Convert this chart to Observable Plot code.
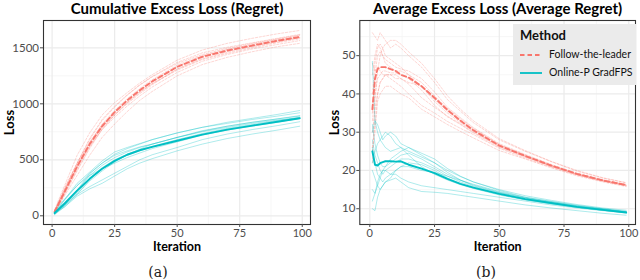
<!DOCTYPE html>
<html>
<head>
<meta charset="utf-8">
<script src="https://cdn.jsdelivr.net/npm/d3@7"></script>
<script src="https://cdn.jsdelivr.net/npm/@observablehq/plot@0.6"></script>
<style>
  html, body { margin: 0; padding: 0; background: #fff; }
  #wrap { position: relative; width: 640px; height: 280px; font-family: Lato, "Open Sans", sans-serif; }
  .panel { position: absolute; top: 0; }
  .cap { position: absolute; top: 264px; font-family: "DejaVu Serif", "Liberation Serif", serif; font-size: 14px; color: #222; transform: translateX(-50%); }
  #legend { position: absolute; left: 513px; top: 24px; width: 123px; height: 61px; background: #EBEBEB; }
  #legend .ttl { position: absolute; left: 7px; top: 3px; font-weight: bold; font-size: 13px; color: #111; }
  #legend .lab { position: absolute; left: 36px; font-size: 10.5px; color: #111; }
  #legend svg { position: absolute; left: 7px; }
</style>
</head>
<body>
<div id="wrap"></div>
<script>
// ---------------- data ----------------
const methods = ["Follow-the-leader", "Online-P GradFPS"];
const colors = ["#F8766D", "#00BFC4"];

const xTicks = [0, 25, 50, 75, 100];
const xMinor = [12.5, 37.5, 62.5, 87.5];
const cumYTicks = [0, 500, 1000, 1500];
const cumYMinor = [250, 750, 1250];
const avgYTicks = [10, 20, 30, 40, 50];
const avgYMinor = [15, 25, 35, 45, 55];

// Cumulative excess loss (left panel)
const iterCum = [1, 5, 10, 15, 20, 25, 30, 35, 40, 50, 60, 70, 80, 90, 99];
const cumMeanFTL = [36, 215, 440, 640, 800, 925, 1030, 1120, 1200, 1330, 1420, 1475, 1520, 1563, 1597];
const cumMeanGFPS = [25, 110, 225, 330, 420, 490, 545, 585, 615, 670, 725, 770, 805, 840, 871];
const cumRunsFTL = [
  [56, 270, 540, 740, 900, 1010, 1100, 1185, 1260, 1390, 1480, 1540, 1585, 1625, 1655],
  [22, 190, 400, 600, 770, 900, 1010, 1110, 1195, 1330, 1425, 1485, 1530, 1575, 1610],
  [40, 250, 470, 660, 810, 925, 1020, 1105, 1180, 1300, 1395, 1450, 1500, 1545, 1580],
  [30, 200, 410, 610, 780, 900, 1000, 1090, 1170, 1310, 1400, 1460, 1510, 1552, 1590],
  [45, 240, 470, 680, 850, 970, 1075, 1165, 1240, 1360, 1440, 1495, 1540, 1580, 1615],
  [25, 180, 360, 540, 700, 820, 930, 1030, 1110, 1250, 1350, 1415, 1465, 1510, 1540],
  [35, 235, 470, 690, 860, 980, 1080, 1170, 1245, 1370, 1455, 1505, 1545, 1585, 1620],
  [48, 225, 430, 620, 770, 880, 980, 1070, 1150, 1280, 1380, 1440, 1490, 1530, 1565],
  [33, 215, 450, 650, 820, 940, 1045, 1135, 1215, 1345, 1430, 1485, 1530, 1570, 1600],
  [26, 205, 430, 630, 790, 905, 1010, 1100, 1180, 1310, 1410, 1470, 1515, 1560, 1590]
];
const cumRunsGFPS = [
  [48, 150, 270, 380, 470, 550, 600, 640, 680, 740, 790, 835, 870, 905, 940],
  [10, 80, 175, 240, 290, 355, 420, 470, 510, 580, 640, 690, 730, 765, 800],
  [30, 145, 290, 390, 490, 570, 610, 645, 680, 740, 790, 825, 860, 890, 920],
  [15, 95, 230, 375, 470, 540, 580, 615, 640, 700, 760, 800, 835, 865, 895],
  [22, 140, 270, 360, 420, 470, 520, 560, 600, 660, 720, 765, 800, 835, 870],
  [12, 95, 190, 260, 320, 380, 440, 500, 545, 610, 680, 730, 770, 805, 840],
  [28, 100, 210, 330, 430, 500, 550, 590, 620, 680, 735, 780, 815, 850, 880],
  [20, 80, 190, 320, 420, 490, 540, 580, 615, 670, 725, 770, 805, 840, 870],
  [32, 105, 225, 360, 450, 520, 570, 610, 640, 700, 755, 800, 835, 865, 890],
  [26, 90, 200, 310, 400, 480, 545, 595, 640, 700, 750, 790, 825, 855, 875]
];

// Average excess loss (right panel)
const iterAvg = [1, 2, 3, 4, 5, 6, 8, 10, 12, 15, 20, 25, 30, 35, 40, 50, 60, 70, 80, 90, 99];
const avgMeanFTL = [36, 44, 46.5, 47, 47, 47, 46.5, 46, 45, 44.3, 42, 39, 35.8, 33, 30.5, 26.5, 23.8, 21.3, 19.1, 17.4, 16.2];
const avgMeanGFPS = [25, 21.5, 21.3, 21.9, 22.2, 22.4, 22.4, 22.3, 22.4, 21.5, 20.5, 19.3, 17.8, 16.5, 15.5, 13.9, 12.5, 11.5, 10.5, 9.7, 9.0];
const avgRunsFTL = [
  [56, 55, 54, 56, 55, 54, 52, 53, 52, 50, 47, 43, 38.5, 35.5, 32.5, 28, 25, 22.3, 19.8, 18, 16.8],
  [22, 38, 46, 50, 52, 53, 54, 54, 53, 51, 48, 44, 39.5, 36, 33, 28.3, 25.2, 22.4, 20, 18.1, 16.8],
  [40, 48, 52, 53, 52, 50, 49, 48, 47, 45, 42, 38, 35, 32.5, 30.2, 26.3, 23.7, 21.2, 19, 17.3, 16.1],
  [30, 36, 40, 43, 44, 45, 45, 44, 44, 43, 42, 38.5, 35.5, 33, 30.8, 26.7, 24, 21.4, 19.2, 17.5, 16.3],
  [45, 50, 53, 52, 50, 48, 47, 46, 46, 45, 43, 39.5, 36.2, 33.5, 31, 26.8, 23.9, 21.3, 19.1, 17.4, 16.2],
  [25, 30, 38, 40, 41, 42, 42, 41, 40, 39, 36, 34, 32, 30.2, 28.5, 25.2, 23, 20.7, 18.6, 17, 15.8],
  [35, 45, 50, 51, 50, 49, 48, 47, 46.5, 46, 44, 40.5, 36.5, 33.8, 31.2, 27, 24.2, 21.6, 19.3, 17.6, 16.4],
  [48, 46, 47, 46, 45, 45, 44, 43, 42, 40, 37, 35, 32.8, 31, 29.4, 25.8, 23.2, 20.9, 18.8, 17.2, 16],
  [33, 40, 44, 45, 46, 46, 45.5, 45.5, 45, 44, 41, 37, 34, 32, 29.8, 26, 23.5, 21, 18.9, 17.2, 16],
  [26, 32, 40, 43, 44, 45, 45, 45, 44, 42.6, 39, 36.5, 34.2, 32.2, 30, 26.3, 23.6, 21.2, 19, 17.3, 16.1]
];
const avgRunsGFPS = [
  [48.5, 33, 30, 28, 27, 26, 25, 25.5, 26, 25, 23.5, 22, 20, 18.4, 17, 15, 13.4, 12.2, 11.1, 10.2, 9.6],
  [10, 9.5, 13, 15, 16, 17, 17.5, 18, 17, 15.5, 14.5, 14.3, 14, 13.5, 13, 12, 11, 10.2, 9.5, 8.8, 8.3],
  [30, 33, 32, 30, 28, 29, 30, 29, 27, 26, 24.5, 23, 20.5, 18.5, 17, 14.8, 13, 11.9, 10.8, 10, 9.3],
  [15, 14, 16, 18, 20, 21, 23, 24, 25, 26, 24, 22, 19.5, 17.5, 16, 14.2, 12.8, 11.6, 10.6, 9.8, 9.1],
  [22, 25, 27, 28, 29, 30, 29, 27, 26, 24, 21, 19, 17.5, 16.3, 15.3, 13.6, 12.3, 11.3, 10.4, 9.6, 9.0],
  [12, 14, 17, 19, 20, 20, 19, 19, 18, 17, 16, 15.5, 15, 14.5, 14, 13, 12, 11, 10.2, 9.5, 8.9],
  [28, 24, 22, 20, 19, 20, 21, 22, 23, 23, 22, 20.5, 18.5, 17, 15.8, 14, 12.6, 11.5, 10.5, 9.8, 9.1],
  [20, 18, 16, 15, 16, 17, 18, 20, 21, 22, 21.5, 20, 18, 16.5, 15.5, 13.8, 12.4, 11.3, 10.4, 9.6, 9.0],
  [32, 27, 24, 22, 21, 21, 22, 23, 24, 24.5, 23, 21, 19, 17.5, 16.2, 14.3, 12.8, 11.7, 10.7, 9.9, 9.2],
  [26, 22, 19, 18, 17, 18, 19, 20, 21, 21, 20, 19.5, 18.5, 17.4, 16.4, 14.5, 13, 11.9, 10.9, 10, 9.3]
];

// ---------------- helpers ----------------
function toRows(iters, series, run) {
  return iters.map((x, i) => ({ x, y: series[i], run }));
}
function runRows(iters, runs) {
  return runs.flatMap((s, r) => toRows(iters, s, r));
}

function panel({ title, iters, meanF, meanG, runsF, runsG, xDomain, yDomain, yTicks, yMinor, marginLeft, marginRight, yLabelDx }) {
  return Plot.plot({
    width: 320,
    height: 256,
    marginTop: 20,
    marginBottom: 32,
    marginLeft,
    marginRight,
    x: { domain: xDomain },
    y: { domain: yDomain },
    style: { fontFamily: "Lato, 'Open Sans', sans-serif", fontSize: "11px", background: "#fff", overflow: "visible" },
    marks: [
      Plot.ruleX(xMinor, { stroke: "#F4F4F4", strokeWidth: 0.7 }),
      Plot.ruleY(yMinor, { stroke: "#F4F4F4", strokeWidth: 0.7 }),
      Plot.ruleX(xTicks, { stroke: "#EBEBEB", strokeWidth: 1.2 }),
      Plot.ruleY(yTicks, { stroke: "#EBEBEB", strokeWidth: 1.2 }),
      Plot.line(runRows(iters, runsF), { x: "x", y: "y", z: "run", stroke: colors[0], strokeOpacity: 0.38, strokeWidth: 0.8, strokeDasharray: "2.2,1.6" }),
      Plot.line(runRows(iters, runsG), { x: "x", y: "y", z: "run", stroke: colors[1], strokeOpacity: 0.4, strokeWidth: 0.8 }),
      Plot.line(toRows(iters, meanF, 0), { x: "x", y: "y", stroke: colors[0], strokeWidth: 1.9, strokeDasharray: "4.5,3" }),
      Plot.line(toRows(iters, meanG, 0), { x: "x", y: "y", stroke: colors[1], strokeWidth: 1.9 }),
      Plot.frame({ stroke: "#333333", strokeWidth: 1.1 }),
      Plot.axisX(xTicks, { tickSize: 3, tickPadding: 1.5, fontSize: 11, color: "#4D4D4D", label: null, tickFormat: d => String(d) }),
      Plot.axisY(yTicks, { tickSize: 3, tickPadding: 1.5, fontSize: 11.5, color: "#4D4D4D", label: null, tickFormat: d => String(d) }),
      Plot.text(["Iteration"], { text: d => d, frameAnchor: "bottom", lineAnchor: "middle", dy: 22.5, fontSize: 12.5, fontWeight: "bold", fill: "#000" }),
      Plot.text(["Loss"], { text: d => d, frameAnchor: "left", textAnchor: "middle", lineAnchor: "middle", dx: yLabelDx, rotate: -90, fontSize: 13, fontWeight: "bold", fill: "#000" }),
      Plot.text([title], { text: d => d, frameAnchor: "top", lineAnchor: "middle", dy: -11, fontSize: 15, fontWeight: "bold", fill: "#000" })
    ]
  });
}

const left = panel({
  title: "Cumulative Excess Loss (Regret)",
  iters: iterCum, meanF: cumMeanFTL, meanG: cumMeanGFPS, runsF: cumRunsFTL, runsG: cumRunsGFPS,
  xDomain: [-3.44, 103.3], yDomain: [-77.7, 1744], yTicks: cumYTicks, yMinor: cumYMinor,
  marginLeft: 43, marginRight: 10, yLabelDx: -34
});
const right = panel({
  title: "Average Excess Loss (Average Regret)",
  iters: iterAvg, meanF: avgMeanFTL, meanG: avgMeanGFPS, runsF: avgRunsFTL, runsG: avgRunsGFPS,
  xDomain: [-3.86, 102.6], yDomain: [5.88, 59.19], yTicks: avgYTicks, yMinor: avgYMinor,
  marginLeft: 39.3, marginRight: 5, yLabelDx: -25
});

const wrap = document.getElementById("wrap");
left.classList.add("panel"); left.style.left = "0px";
right.classList.add("panel"); right.style.left = "320px";
wrap.appendChild(left);
wrap.appendChild(right);

// captions
[["(a)", 158], ["(b)", 486]].forEach(([t, x]) => {
  const d = document.createElement("div");
  d.className = "cap"; d.textContent = t; d.style.left = x + "px";
  wrap.appendChild(d);
});

// legend
const leg = document.createElement("div");
leg.id = "legend";
const ttl = document.createElement("div");
ttl.className = "ttl"; ttl.textContent = "Method";
leg.appendChild(ttl);
methods.forEach((m, i) => {
  const cy = i === 0 ? 31 : 49;
  const svg = d3.create("svg").attr("width", 24).attr("height", 8).style("top", (cy - 4) + "px");
  svg.append("line").attr("x1", 0).attr("x2", 22).attr("y1", 4).attr("y2", 4)
    .attr("stroke", colors[i]).attr("stroke-width", 1.8)
    .attr("stroke-dasharray", i === 0 ? "4.5,3" : null);
  leg.appendChild(svg.node());
  const lab = document.createElement("div");
  lab.className = "lab"; lab.textContent = m;
  lab.style.top = (cy - 7) + "px";
  leg.appendChild(lab);
});
wrap.appendChild(leg);
</script>
</body>
</html>
